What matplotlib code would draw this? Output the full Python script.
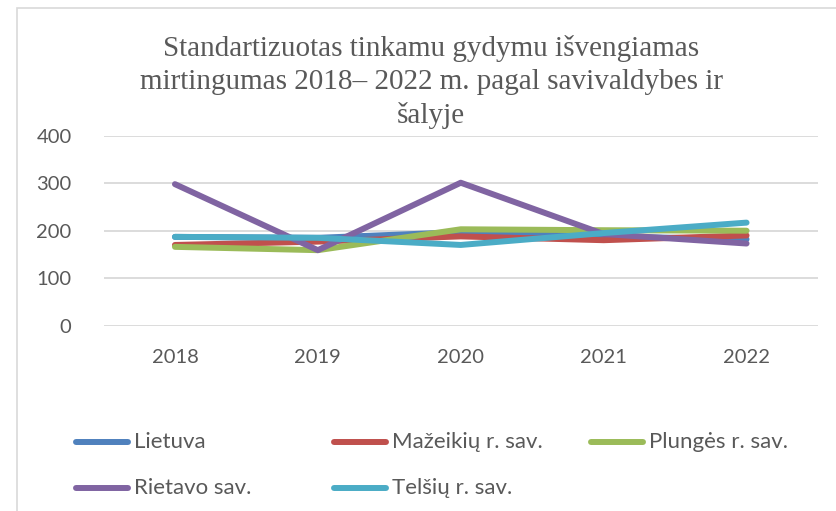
import matplotlib
matplotlib.use("Agg")
import matplotlib.pyplot as plt
from matplotlib.lines import Line2D
from matplotlib.patches import Rectangle

years = ["2018", "2019", "2020", "2021", "2022"]
series_names = ["Lietuva", "Mažeikių r. sav.", "Plungės r. sav.", "Rietavo sav.", "Telšių r. sav."]
lietuva = [187, 185, 197, 188, 182]
mazeikiu = [170, 177, 188, 180, 190]
plunges = [166, 159, 203, 201, 200]
rietavo = [298, 159, 301, 193, 173]
telsiu = [187, 185, 170, 195, 217]
series_values = [lietuva, mazeikiu, plunges, rietavo, telsiu]
colors = ["#4F81BD", "#C0504D", "#9BBB59", "#8064A2", "#4BACC6"]
yticks = [0, 100, 200, 300, 400]

W, H = 836, 511
fig = plt.figure(figsize=(W / 100, H / 100), dpi=100)
fig.patch.set_facecolor("white")

# outer chart border
fig.add_artist(Rectangle((17 / W, -0.01), (W - 17 + 5) / W, (H - 8) / H + 0.01,
                         transform=fig.transFigure, fill=False,
                         edgecolor="#D9D9D9", lw=1.2))

ax = fig.add_axes([103.5 / W, (H - 325.7) / H, 714.5 / W, 190 / H])
x = list(range(len(years)))
for vals, c in zip(series_values, colors):
    ax.plot(x, vals, color=c, lw=4.3, solid_capstyle="round", solid_joinstyle="round", zorder=3)

ax.set_xlim(-0.5, len(years) - 0.5)
ax.set_ylim(0, 400)
ax.set_yticks(yticks)
ax.set_xticks(x)
ax.set_xticklabels(years)
ax.grid(axis="y", color="#D9D9D9", lw=1.3, zorder=0)
for s in ax.spines.values():
    s.set_visible(False)
ax.tick_params(axis="both", length=0, labelcolor="#595959", labelsize=14.5)
ax.tick_params(axis="y", pad=23)
ax.tick_params(axis="x", pad=17)
for lab in ax.get_xticklabels() + ax.get_yticklabels():
    lab.set_fontfamily("Lato")

fig.text(431 / W, 1 - 82 / H,
         "Standartizuotas tinkamu gydymu išvengiamas\nmirtingumas 2018– 2022 m. pagal savivaldybes ir\nšalyje",
         ha="center", va="center", fontsize=21, family="Liberation Serif",
         color="#595959", linespacing=1.32)

# legend (row-major, 3 columns)
col_x = [74, 332, 589]
row_y = [442, 488]
for i, (name, c) in enumerate(zip(series_names, colors)):
    r, k = divmod(i, 3)
    x0 = col_x[k]
    y0 = row_y[r]
    fig.add_artist(Line2D([(x0 + 2) / W, (x0 + 54) / W], [1 - y0 / H, 1 - y0 / H],
                          transform=fig.transFigure, color=c, lw=4.3,
                          solid_capstyle="round"))
    fig.text((x0 + 60) / W, 1 - y0 / H, name, ha="left", va="center",
             fontsize=16, family="Lato", color="#595959")

fig.savefig("out.png", dpi=100, facecolor="white")
